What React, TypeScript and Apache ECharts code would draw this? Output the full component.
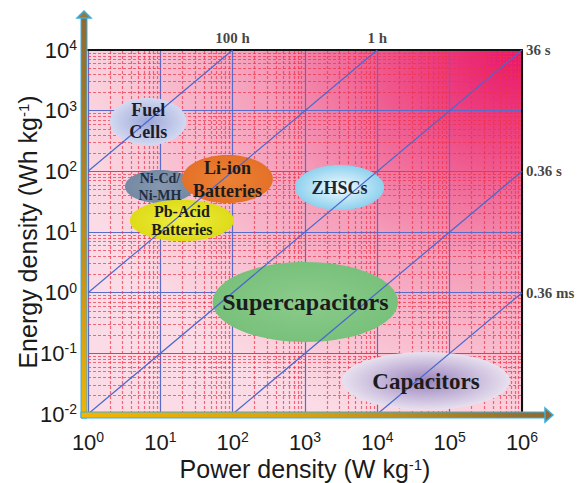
import React, { useEffect, useRef } from "react";
import * as echarts from "echarts";

// ---------- data ----------
const powerTicks = [1, 10, 100, 1000, 10000, 100000, 1000000];
const energyTicks = [0.01, 0.1, 1, 10, 100, 1000, 10000];
const minorMultipliers = [2, 3, 4, 5, 6, 7, 8, 9];

const timeLineHours = [100, 1, 0.01, 0.0001, 0.000001];
const timeLineLabels = ["100 h", "1 h", "36 s", "0.36 s", "0.36 ms"];

const regionNames = [
  "Fuel\nCells",
  "Ni-Cd/\nNi-MH",
  "Li-ion\nBatteries",
  "Pb-Acid\nBatteries",
  "ZHSCs",
  "Supercapacitors",
  "Capacitors",
];
const regionPowerMin = [2.0, 3.25, 20, 3.8, 730, 53, 3250];
const regionPowerMax = [23, 30, 360, 104, 12400, 19300, 680000];
const regionEnergyMin = [272, 30, 30, 7.1, 23, 0.154, 0.0116];
const regionEnergyMax = [1620, 105, 186, 34, 127, 3.2, 0.105];

// ---------- styles ----------
const regionInner = ["#9ca7d8", "#8698b0", "#ec8236", "#f0ee40", "#f4fbff", "#8ccb8b", "#9a82be"];
const regionOuter = ["#d3d9f1", "#7589a4", "#e47128", "#dedb18", "#8ed1ee", "#78c17b", "#e8e1ef"];
const regionTextColor = ["#1c1c2a", "#1f2d42", "#1c1c1c", "#1c1c1c", "#1c2634", "#1c1c1c", "#1c1c1c"];
const regionFontSize = [18, 14, 18, 16, 18, 24, 23];
const regionLineHeight = [22, 17, 23, 18, 22, 26, 26];
const timeLabelPos = ["top", "top", "right", "right", "right"];

const GRID = { left: 88, right: 55, top: 50, bottom: 69 };
const W = 577;
const H = 483;

const SANS = "'Liberation Sans', Arial, Helvetica, sans-serif";
const SERIF = "'Liberation Serif', 'Times New Roman', serif";

function expLabel(v: number) {
  const e = Math.round(Math.log10(v));
  return `{b|10}{s|${e}}`;
}

export default function App() {
  const ref = useRef<HTMLDivElement>(null);

  useEffect(() => {
    if (!ref.current) return;
    const chart = echarts.init(ref.current, undefined, { renderer: "svg" });

    const xMin = powerTicks[0];
    const xMax = powerTicks[powerTicks.length - 1];
    const yMin = energyTicks[0];
    const yMax = energyTicks[energyTicks.length - 1];

    // minor grid lines
    const minorLines: any[] = [];
    powerTicks.slice(0, -1).forEach((d) =>
      minorMultipliers.forEach((m) =>
        minorLines.push({ coords: [[m * d, yMin], [m * d, yMax]] })
      )
    );
    energyTicks.slice(0, -1).forEach((d) =>
      minorMultipliers.forEach((m) =>
        minorLines.push({ coords: [[xMin, m * d], [xMax, m * d]] })
      )
    );

    // constant discharge-time lines E = t * P
    const timeLines = timeLineHours.map((t) => {
      const p0 = Math.max(xMin, yMin / t);
      const p1 = Math.min(xMax, yMax / t);
      return { coords: [[p0, p0 * t], [p1, p1 * t]] };
    });
    const timeLabelData = timeLineHours.map((t, i) => {
      const p1 = Math.min(xMax, yMax / t);
      return {
        name: timeLineLabels[i],
        value: [p1, p1 * t],
        label: { position: timeLabelPos[i] },
      };
    });

    const regionData = regionNames.map((n, i) => ({
      name: n,
      value: [regionPowerMin[i], regionPowerMax[i], regionEnergyMin[i], regionEnergyMax[i]],
    }));

    const geom = (api: any) => {
      const a = api.coord([api.value(0), api.value(3)]);
      const b = api.coord([api.value(1), api.value(2)]);
      return {
        cx: (a[0] + b[0]) / 2,
        cy: (a[1] + b[1]) / 2,
        rx: Math.abs(b[0] - a[0]) / 2,
        ry: Math.abs(b[1] - a[1]) / 2,
      };
    };

    const axisLabelRich = {
      b: { fontSize: 22, lineHeight: 24, fontFamily: SANS, color: "#1a1a1a" },
      s: { fontSize: 14, lineHeight: 14, fontFamily: SANS, color: "#1a1a1a", padding: [0, 0, 10, 0] },
    };
    const nameRich = {
      n: { fontSize: 25, lineHeight: 26, fontFamily: SANS, color: "#1a1a1a" },
      s: { fontSize: 15, lineHeight: 16, fontFamily: SANS, color: "#1a1a1a", padding: [0, 0, 10, 0] },
    };

    const L = GRID.left;
    const T = GRID.top;
    const R = W - GRID.right;
    const B = H - GRID.bottom;

    const option: any = {
      animation: false,
      backgroundColor: "#ffffff",
      grid: {
        ...GRID,
        outerBoundsMode: "none",
        containLabel: false,
        show: true,
        borderWidth: 0,
        backgroundColor: {
          type: "radial",
          x: 1,
          y: 0,
          r: 1.08,
          colorStops: [
            { offset: 0, color: "#e8156a" },
            { offset: 0.25, color: "#ee4a84" },
            { offset: 0.55, color: "#f59bb8" },
            { offset: 0.85, color: "#f9c9d7" },
            { offset: 1, color: "#fbdbe5" },
          ],
        },
      },
      xAxis: [
        {
          type: "log",
          logBase: 10,
          min: xMin,
          max: xMax,
          axisLine: { show: false },
          axisTick: { show: false },
          splitLine: { show: true, lineStyle: { color: "#5a6cc8", width: 1.2 } },
          axisLabel: {
            formatter: expLabel,
            rich: axisLabelRich,
            margin: 16,
            showMinLabel: true,
            showMaxLabel: true,
            hideOverlap: false,
          },
          name: "{n|Power density (W kg}{s|-1}{n|)}",
          nameLocation: "middle",
          nameMoveOverlap: false,
          nameGap: 42,
          nameTextStyle: { rich: nameRich },
        },
        {
          type: "log",
          logBase: 10,
          min: xMin,
          max: xMax,
          position: "top",
          axisLine: { show: true, lineStyle: { color: "#111111", width: 2 } },
          axisTick: { show: false },
          axisLabel: { show: false },
          splitLine: { show: false },
        },
      ],
      yAxis: [
        {
          type: "log",
          logBase: 10,
          min: yMin,
          max: yMax,
          axisLine: { show: false },
          axisTick: { show: false },
          splitLine: { show: true, lineStyle: { color: "#5a6cc8", width: 1.2 } },
          axisLabel: {
            formatter: expLabel,
            rich: axisLabelRich,
            margin: 11,
            showMinLabel: true,
            showMaxLabel: true,
            hideOverlap: false,
          },
          name: "{n|Energy density (Wh kg}{s|-1}{n|)}",
          nameLocation: "middle",
          nameMoveOverlap: false,
          nameGap: 47,
          nameTextStyle: { rich: nameRich },
        },
        {
          type: "log",
          logBase: 10,
          min: yMin,
          max: yMax,
          position: "right",
          axisLine: { show: true, lineStyle: { color: "#111111", width: 2 } },
          axisTick: { show: false },
          axisLabel: { show: false },
          splitLine: { show: false },
        },
      ],
      series: [
        {
          type: "lines",
          coordinateSystem: "cartesian2d",
          silent: true,
          z: 1,
          lineStyle: { color: "#f03248", opacity: 0.7, width: 1.2, type: [3, 2] },
          data: minorLines,
        },
        {
          type: "custom",
          silent: true,
          z: 2,
          encode: { x: [0, 1], y: [2, 3] },
          data: regionData,
          renderItem: (params: any, api: any) => {
            const i = params.dataIndex;
            const g = geom(api);
            return {
              type: "ellipse",
              shape: g,
              style: {
                fill: {
                  type: "radial",
                  x: 0.5,
                  y: 0.5,
                  r: 0.5,
                  colorStops: [
                    { offset: 0, color: regionInner[i] },
                    { offset: 1, color: regionOuter[i] },
                  ],
                },
              },
            };
          },
        },
        {
          type: "lines",
          coordinateSystem: "cartesian2d",
          silent: true,
          z: 3,
          lineStyle: { color: "#4a68cc", opacity: 1, width: 1.2 },
          data: timeLines,
        },
        {
          type: "scatter",
          silent: true,
          z: 4,
          symbolSize: 0.1,
          itemStyle: { color: "rgba(0,0,0,0)" },
          clip: false,
          label: {
            show: true,
            formatter: "{b}",
            distance: 4,
            fontFamily: SERIF,
            fontWeight: "bold",
            fontSize: 15,
            color: "#111111",
          },
          data: timeLabelData,
        },
        {
          type: "custom",
          silent: true,
          z: 5,
          encode: { x: [0, 1], y: [2, 3] },
          data: regionData,
          renderItem: (params: any, api: any) => {
            const i = params.dataIndex;
            const g = geom(api);
            return {
              type: "text",
              x: g.cx,
              y: g.cy,
              style: {
                text: regionNames[i],
                fill: regionTextColor[i],
                fontFamily: SERIF,
                fontWeight: "bold",
                fontSize: regionFontSize[i],
                lineHeight: regionLineHeight[i],
                align: "center",
                verticalAlign: "middle",
              },
            };
          },
        },
      ],
      graphic: [
        {
          type: "rect",
          z: 50,
          shape: { x: L - 7, y: T - 33, width: 6, height: B - T + 37 },
          style: {
            fill: {
              type: "linear",
              x: 0,
              y: 0,
              x2: 0,
              y2: 1,
              colorStops: [
                { offset: 0, color: "#8e6a34" },
                { offset: 0.6, color: "#c58e1c" },
                { offset: 1, color: "#f4b400" },
              ],
            },
            stroke: "#3aaee0",
            lineWidth: 1,
          },
        },
        {
          type: "polygon",
          z: 51,
          shape: { points: [[L - 11, T - 32], [L - 4, T - 39], [L + 3, T - 32]] },
          style: { fill: "#9a7638", stroke: "#3aaee0", lineWidth: 1.5 },
        },
        {
          type: "rect",
          z: 52,
          shape: { x: L - 7, y: B - 2, width: R - L + 31, height: 6 },
          style: {
            fill: {
              type: "linear",
              x: 0,
              y: 0,
              x2: 1,
              y2: 0,
              colorStops: [
                { offset: 0, color: "#f4b400" },
                { offset: 0.5, color: "#d6a014" },
                { offset: 1, color: "#8e6a34" },
              ],
            },
            stroke: "#3aaee0",
            lineWidth: 1,
          },
        },
        {
          type: "polygon",
          z: 53,
          shape: { points: [[R + 23, B - 6], [R + 31, B + 1], [R + 23, B + 8]] },
          style: { fill: "#8e6a34", stroke: "#3aaee0", lineWidth: 1.5 },
        },
      ],
    };

    chart.setOption(option);
    return () => chart.dispose();
  }, []);

  return (
    <div
      ref={ref}
      style={{ position: "fixed", left: 0, top: 0, width: W, height: H, background: "#fff" }}
    />
  );
}
